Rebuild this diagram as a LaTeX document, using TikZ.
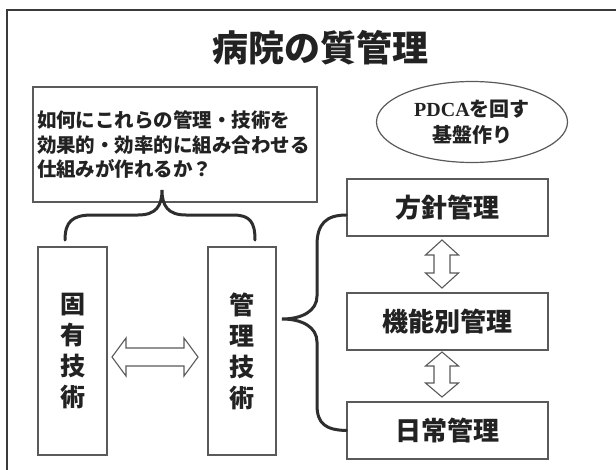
\documentclass[tikz,border=0pt]{standalone}
\usepackage{fontspec}
\setmainfont{Noto Sans CJK JP}
\newfontfamily\pdcafont{Liberation Serif}
\usetikzlibrary{shapes.geometric}
\definecolor{boxgray}{HTML}{5A5A5A}
\definecolor{bracegray}{HTML}{2E2E2E}
\definecolor{framegray}{HTML}{3A3A3A}
\definecolor{txtgray}{HTML}{222222}
\begin{document}
\begin{tikzpicture}[x=1pt,y=-1pt,
  box/.style={draw=boxgray, line width=1.2pt, fill=white, inner sep=0pt, text=txtgray},
  brace/.style={draw=bracegray, line width=3pt, line cap=round},
  hollow/.style={draw=boxgray, line width=1.1pt, fill=white, line join=miter},
  vtext/.style={align=center, font=\bfseries\fontsize{25}{31}\selectfont}]
\useasboundingbox (0,0) rectangle (616,469);
\fill[white] (0,0) rectangle (616,469);
\begin{scope}
\clip (0,0) rectangle (616,469);
\draw[line width=2.6pt, draw=framegray] (7,10) rectangle (660,500);
\end{scope}

\node[text=txtgray, font=\bfseries\fontsize{36}{40}\selectfont] (title) at (320,48) {病院の質管理};

\node[box, minimum width=284pt, minimum height=115pt, text width=276pt, align=left,
  font=\bfseries\fontsize{19.5}{24.5}\selectfont] (q) at (175,144.5)
  {如何にこれらの管理・技術を\\効果的・効率的に組み合わせる\\仕組みが作れるか？};

\node[box, ellipse, minimum width=191pt, minimum height=81pt, align=center,
  font=\bfseries\fontsize{20}{26}\selectfont] (pdca) at (472,122)
  {{\pdcafont\bfseries PDCA}を回す\\基盤作り};

\node[box, minimum width=69pt, minimum height=208pt, vtext] (koyu) at (72.5,351) {固\\有\\技\\術};
\node[box, minimum width=68pt, minimum height=208pt, vtext] (kanri) at (242,351) {管\\理\\技\\術};

\node[box, minimum width=201pt, minimum height=57pt, font=\bfseries\fontsize{26}{30}\selectfont] (hoshin) at (447.5,207.5) {方針管理};
\node[box, minimum width=201pt, minimum height=57pt, font=\bfseries\fontsize{26}{30}\selectfont] (kino) at (447.5,321.5) {機能別管理};
\node[box, minimum width=201pt, minimum height=57pt, font=\bfseries\fontsize{26}{30}\selectfont] (nichijo) at (447.5,430.5) {日常管理};

% top brace
\draw[brace] (65,240) .. controls (65,222) and (72,215) .. (92,215) -- (138,215)
  .. controls (156,215) and (162,206) .. (162,190)
  .. controls (162,206) and (168,215) .. (186,215) -- (233,215)
  .. controls (250,215) and (255,222) .. (255,240);

% right brace
\draw[brace] (hoshin.west |- 0,215) .. controls (326,215) and (317,224) .. (317,245) -- (317,296)
  .. controls (317,311) and (302,319) .. (282,319)
  .. controls (302,319) and (317,327) .. (317,342) -- (317,405)
  .. controls (317,424) and (326,430) .. (nichijo.west);

% horizontal hollow double arrow
\draw[hollow] (112,357) -- (126,338) -- (126,348) -- (184,348) -- (184,338) -- (198,357)
  -- (184,376) -- (184,366) -- (126,366) -- (126,376) -- cycle;

% vertical hollow double arrows
\draw[hollow] (442,240) -- (458.5,255) -- (450,255) -- (450,273) -- (458.5,273) -- (442,288)
  -- (425.5,273) -- (434,273) -- (434,255) -- (425.5,255) -- cycle;
\draw[hollow] (442,352) -- (458.5,366) -- (450,366) -- (450,383) -- (458.5,383) -- (442,397)
  -- (425.5,383) -- (434,383) -- (434,366) -- (425.5,366) -- cycle;
\end{tikzpicture}
\end{document}
